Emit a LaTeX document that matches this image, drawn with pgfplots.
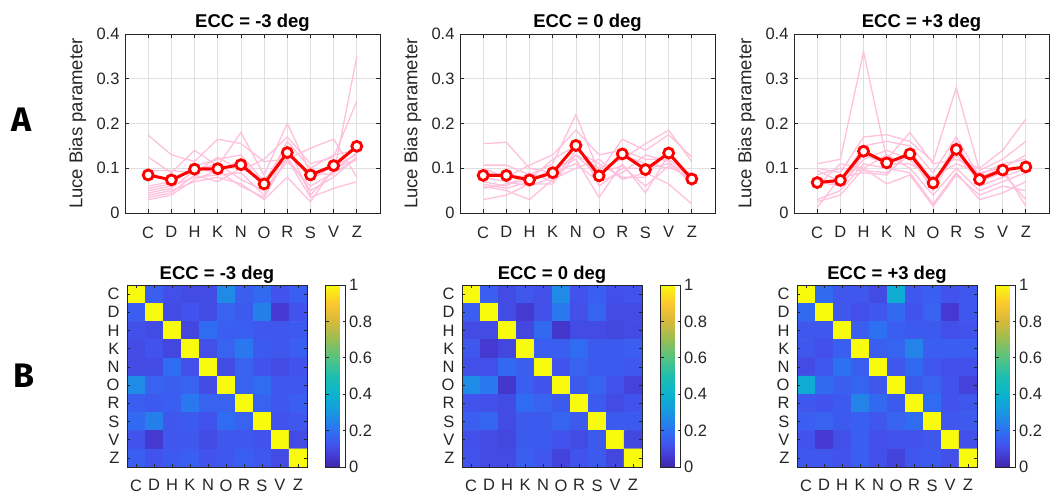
\documentclass[border=0pt]{standalone}
\usepackage{fontspec}
\setmainfont{Liberation Sans}
\newfontfamily\panelfont{Fira Sans}
\usepackage{pgfplots}
\usepackage{pgfplotstable}
\pgfplotsset{compat=1.18}

\definecolor{tickgray}{RGB}{38,38,38}
\definecolor{gridgray}{RGB}{223,223,223}
\definecolor{subjpink}{RGB}{255,192,220}
\definecolor{meanred}{RGB}{255,0,0}

\newcommand\tickfont{\fontsize{16.5}{18}\selectfont}
\newcommand\labfont{\fontsize{18.5}{20}\selectfont}
\newcommand\titfont{\bfseries\fontsize{18.5}{21}\selectfont}

% Luce bias per letter: mean (m) and ten observers (s1..s10)
\pgfplotstableread{
x m s1 s2 s3 s4 s5 s6 s7 s8 s9 s10
1 0.085 0.174 0.125 0.095 0.060 0.050 0.045 0.040 0.035 0.030 0.055
2 0.074 0.130 0.090 0.095 0.070 0.060 0.055 0.050 0.045 0.040 0.065
3 0.098 0.115 0.140 0.090 0.100 0.080 0.095 0.070 0.085 0.075 0.105
4 0.099 0.165 0.105 0.125 0.090 0.085 0.110 0.080 0.070 0.095 0.120
5 0.108 0.155 0.180 0.095 0.120 0.090 0.075 0.065 0.100 0.060 0.130
6 0.065 0.115 0.085 0.120 0.060 0.040 0.050 0.030 0.075 0.035 0.070
7 0.135 0.120 0.200 0.170 0.160 0.140 0.115 0.080 0.120 0.125 0.150
8 0.085 0.145 0.090 0.110 0.100 0.075 0.060 0.025 0.035 0.050 0.040
9 0.106 0.165 0.085 0.125 0.130 0.105 0.090 0.100 0.055 0.080 0.095
10 0.149 0.080 0.350 0.250 0.140 0.130 0.120 0.120 0.070 0.125 0.135
}\eccm

\pgfplotstableread{
x m s1 s2 s3 s4 s5 s6 s7 s8 s9 s10
1 0.084 0.155 0.107 0.100 0.080 0.070 0.065 0.060 0.030 0.055 0.090
2 0.084 0.158 0.107 0.080 0.070 0.060 0.055 0.050 0.040 0.065 0.085
3 0.074 0.100 0.085 0.107 0.060 0.090 0.070 0.030 0.065 0.075 0.080
4 0.090 0.090 0.110 0.130 0.080 0.070 0.100 0.075 0.065 0.120 0.090
5 0.151 0.130 0.220 0.185 0.160 0.140 0.120 0.100 0.130 0.150 0.110
6 0.083 0.100 0.090 0.130 0.060 0.110 0.035 0.120 0.080 0.090 0.070
7 0.132 0.120 0.165 0.140 0.100 0.080 0.110 0.075 0.130 0.105 0.090
8 0.097 0.155 0.140 0.120 0.100 0.080 0.045 0.090 0.110 0.060 0.130
9 0.134 0.185 0.175 0.120 0.110 0.140 0.130 0.065 0.100 0.105 0.115
10 0.076 0.115 0.125 0.080 0.085 0.060 0.070 0.020 0.090 0.075 0.065
}\eccz

\pgfplotstableread{
x m s1 s2 s3 s4 s5 s6 s7 s8 s9 s10
1 0.068 0.110 0.100 0.095 0.080 0.060 0.030 0.025 0.012 0.070 0.085
2 0.073 0.120 0.090 0.070 0.060 0.110 0.050 0.040 0.080 0.060 0.100
3 0.138 0.360 0.170 0.150 0.120 0.100 0.110 0.100 0.090 0.130 0.095
4 0.112 0.120 0.175 0.160 0.140 0.130 0.100 0.065 0.085 0.110 0.090
5 0.132 0.180 0.160 0.150 0.120 0.100 0.090 0.085 0.140 0.110 0.130
6 0.067 0.110 0.115 0.090 0.060 0.040 0.020 0.015 0.070 0.080 0.050
7 0.142 0.120 0.280 0.170 0.160 0.100 0.090 0.085 0.130 0.110 0.140
8 0.075 0.100 0.095 0.080 0.060 0.050 0.030 0.040 0.070 0.090 0.085
9 0.096 0.140 0.120 0.100 0.080 0.070 0.045 0.060 0.090 0.100 0.110
10 0.103 0.210 0.160 0.130 0.100 0.090 0.070 0.050 0.030 0.015 0.120
}\eccp

\pgfplotsset{
  colormap={parula}{rgb255(0pt)=(62,38,168) rgb255(6pt)=(68,58,210)
    rgb255(12.5pt)=(65,85,238) rgb255(20pt)=(45,112,242) rgb255(30pt)=(25,150,225)
    rgb255(40pt)=(10,180,205) rgb255(50pt)=(30,190,175) rgb255(60pt)=(85,195,130)
    rgb255(70pt)=(150,190,85) rgb255(80pt)=(215,185,60) rgb255(90pt)=(252,200,45)
    rgb255(100pt)=(249,251,14)},
  base/.style={
    scale only axis,
    axis line style={draw=tickgray, line width=0.7pt},
    tick style={draw=tickgray, line width=0.7pt},
    tick align=inside,
    tick label style={font=\tickfont, text=tickgray},
    title style={font=\titfont, at={(axis description cs:0.5,1)}, anchor=base},
  },
  lbp/.style={
    base, width=255pt, height=179pt,
    xmin=0, xmax=11, ymin=0, ymax=0.4,
    xtick={1,...,10}, xticklabels={C,D,H,K,N,O,R,S,V,Z},
    ytick={0,0.1,0.2,0.3,0.4}, yticklabels={0,0.1,0.2,0.3,0.4},
    major tick length=4pt,
    grid=major, grid style={draw=gridgray, line width=0.8pt},
    xticklabel style={yshift=-10pt},
    yticklabel style={xshift=-2pt},
    ylabel={Luce Bias parameter},
    ylabel style={font=\labfont, text=tickgray, at={(axis description cs:-0.186,0.5)}, anchor=center},
    title style={yshift=0pt},
  },
  subj/.style={subjpink, line width=1.3pt},
  avg/.style={meanred, line width=3pt, mark=*, mark size=5pt,
    mark options={fill=white, draw=meanred, line width=2.8pt}},
  hm/.style={
    base, width=180pt, height=182pt,
    xmin=0.5, xmax=10.5, ymin=0.5, ymax=10.5, y dir=reverse,
    enlargelimits=false, axis on top,
    xtick={1,...,10}, ytick={1,...,10},
    xticklabels={C,D,H,K,N,O,R,S,V,Z}, yticklabels={C,D,H,K,N,O,R,S,V,Z},
    major tick length=3pt,
    xticklabel style={yshift=-9pt},
    yticklabel style={xshift=-4pt},
    title style={yshift=0pt},
    colormap name=parula, point meta min=0, point meta max=1,
    colorbar,
    colorbar style={
      at={(parent axis.north east)}, anchor=north west, xshift=10pt,
      width=20pt,
      ytick={0,0.2,0.4,0.6,0.8,1}, yticklabels={0,0.2,0.4,0.6,0.8,1},
      yticklabel style={font=\tickfont, text=tickgray},
      axis line style={draw=tickgray, line width=0.7pt},
      tick style={draw=tickgray, line width=0.7pt},
      major tick length=3pt,
    },
  },
}

\begin{document}
\begin{tikzpicture}
\useasboundingbox (0,0) rectangle (1050pt,496pt);

\node[font=\panelfont\bfseries\fontsize{34}{36}\selectfont] at (22pt,376pt) {A};
\node[font=\panelfont\bfseries\fontsize{34}{36}\selectfont] at (24pt,120pt) {B};

% ---- row A: Luce bias parameters ----
\begin{axis}[lbp, at={(125pt,283pt)}, anchor=south west, title={ECC = -3 deg}]
\pgfplotsinvokeforeach{1,...,10}{\addplot[subj] table[x=x, y=s#1] {\eccm};}
\addplot[avg] table[x=x, y=m] {\eccm};
\end{axis}

\begin{axis}[lbp, at={(460pt,283pt)}, anchor=south west, title={ECC = 0 deg}]
\pgfplotsinvokeforeach{1,...,10}{\addplot[subj] table[x=x, y=s#1] {\eccz};}
\addplot[avg] table[x=x, y=m] {\eccz};
\end{axis}

\begin{axis}[lbp, at={(794pt,283pt)}, anchor=south west, title={ECC = +3 deg}]
\pgfplotsinvokeforeach{1,...,10}{\addplot[subj] table[x=x, y=s#1] {\eccp};}
\addplot[avg] table[x=x, y=m] {\eccp};
\end{axis}

% ---- row B: confusion correlation matrices ----
\begin{axis}[hm, at={(127pt,29pt)}, anchor=south west, title={ECC = -3 deg}]
\addplot[matrix plot*, mesh/cols=10, point meta=explicit] coordinates {
(1,1)[1] (2,1)[.15] (3,1)[.11] (4,1)[.10] (5,1)[.10] (6,1)[.27] (7,1)[.15] (8,1)[.18] (9,1)[.12] (10,1)[.15]
(1,2)[.15] (2,2)[1] (3,2)[.10] (4,2)[.12] (5,2)[.10] (6,2)[.16] (7,2)[.14] (8,2)[.24] (9,2)[.06] (10,2)[.12]
(1,3)[.11] (2,3)[.10] (3,3)[1] (4,3)[.09] (5,3)[.19] (6,3)[.15] (7,3)[.15] (8,3)[.13] (9,3)[.13] (10,3)[.14]
(1,4)[.10] (2,4)[.12] (3,4)[.09] (4,4)[1] (5,4)[.11] (6,4)[.16] (7,4)[.22] (8,4)[.14] (9,4)[.13] (10,4)[.15]
(1,5)[.10] (2,5)[.10] (3,5)[.19] (4,5)[.11] (5,5)[1] (6,5)[.10] (7,5)[.16] (8,5)[.12] (9,5)[.10] (10,5)[.12]
(1,6)[.27] (2,6)[.16] (3,6)[.15] (4,6)[.16] (5,6)[.10] (6,6)[1] (7,6)[.16] (8,6)[.19] (9,6)[.13] (10,6)[.13]
(1,7)[.15] (2,7)[.14] (3,7)[.15] (4,7)[.22] (5,7)[.16] (6,7)[.16] (7,7)[1] (8,7)[.16] (9,7)[.13] (10,7)[.15]
(1,8)[.18] (2,8)[.24] (3,8)[.13] (4,8)[.14] (5,8)[.12] (6,8)[.19] (7,8)[.16] (8,8)[1] (9,8)[.12] (10,8)[.13]
(1,9)[.12] (2,9)[.06] (3,9)[.13] (4,9)[.13] (5,9)[.10] (6,9)[.13] (7,9)[.13] (8,9)[.12] (9,9)[1] (10,9)[.10]
(1,10)[.15] (2,10)[.12] (3,10)[.14] (4,10)[.15] (5,10)[.12] (6,10)[.13] (7,10)[.15] (8,10)[.13] (9,10)[.10] (10,10)[1]
};
\end{axis}

\begin{axis}[hm, at={(462pt,29pt)}, anchor=south west, title={ECC = 0 deg}]
\addplot[matrix plot*, mesh/cols=10, point meta=explicit] coordinates {
(1,1)[1] (2,1)[.15] (3,1)[.10] (4,1)[.13] (5,1)[.11] (6,1)[.27] (7,1)[.12] (8,1)[.15] (9,1)[.11] (10,1)[.12]
(1,2)[.15] (2,2)[1] (3,2)[.10] (4,2)[.06] (5,2)[.11] (6,2)[.22] (7,2)[.11] (8,2)[.17] (9,2)[.10] (10,2)[.10]
(1,3)[.10] (2,3)[.10] (3,3)[1] (4,3)[.09] (5,3)[.18] (6,3)[.05] (7,3)[.10] (8,3)[.10] (9,3)[.09] (10,3)[.10]
(1,4)[.13] (2,4)[.06] (3,4)[.09] (4,4)[1] (5,4)[.15] (6,4)[.15] (7,4)[.19] (8,4)[.14] (9,4)[.14] (10,4)[.15]
(1,5)[.11] (2,5)[.11] (3,5)[.18] (4,5)[.15] (5,5)[1] (6,5)[.12] (7,5)[.16] (8,5)[.14] (9,5)[.14] (10,5)[.13]
(1,6)[.27] (2,6)[.22] (3,6)[.05] (4,6)[.15] (5,6)[.12] (6,6)[1] (7,6)[.14] (8,6)[.17] (9,6)[.12] (10,6)[.08]
(1,7)[.12] (2,7)[.11] (3,7)[.10] (4,7)[.19] (5,7)[.16] (6,7)[.14] (7,7)[1] (8,7)[.14] (9,7)[.10] (10,7)[.12]
(1,8)[.15] (2,8)[.17] (3,8)[.10] (4,8)[.14] (5,8)[.14] (6,8)[.17] (7,8)[.14] (8,8)[1] (9,8)[.14] (10,8)[.14]
(1,9)[.11] (2,9)[.10] (3,9)[.09] (4,9)[.14] (5,9)[.14] (6,9)[.12] (7,9)[.10] (8,9)[.14] (9,9)[1] (10,9)[.09]
(1,10)[.12] (2,10)[.10] (3,10)[.10] (4,10)[.15] (5,10)[.13] (6,10)[.08] (7,10)[.12] (8,10)[.14] (9,10)[.09] (10,10)[1]
};
\end{axis}

\begin{axis}[hm, at={(797pt,29pt)}, anchor=south west, title={ECC = +3 deg}]
\addplot[matrix plot*, mesh/cols=10, point meta=explicit] coordinates {
(1,1)[1] (2,1)[.18] (3,1)[.13] (4,1)[.13] (5,1)[.10] (6,1)[.37] (7,1)[.13] (8,1)[.15] (9,1)[.12] (10,1)[.13]
(1,2)[.18] (2,2)[1] (3,2)[.13] (4,2)[.11] (5,2)[.13] (6,2)[.18] (7,2)[.12] (8,2)[.16] (9,2)[.06] (10,2)[.13]
(1,3)[.13] (2,3)[.13] (3,3)[1] (4,3)[.15] (5,3)[.20] (6,3)[.15] (7,3)[.14] (8,3)[.14] (9,3)[.11] (10,3)[.12]
(1,4)[.13] (2,4)[.11] (3,4)[.15] (4,4)[1] (5,4)[.15] (6,4)[.17] (7,4)[.25] (8,4)[.15] (9,4)[.15] (10,4)[.15]
(1,5)[.10] (2,5)[.13] (3,5)[.20] (4,5)[.15] (5,5)[1] (6,5)[.13] (7,5)[.18] (8,5)[.13] (9,5)[.11] (10,5)[.11]
(1,6)[.37] (2,6)[.18] (3,6)[.15] (4,6)[.17] (5,6)[.13] (6,6)[1] (7,6)[.14] (8,6)[.16] (9,6)[.12] (10,6)[.08]
(1,7)[.13] (2,7)[.12] (3,7)[.14] (4,7)[.25] (5,7)[.18] (6,7)[.14] (7,7)[1] (8,7)[.19] (9,7)[.12] (10,7)[.13]
(1,8)[.15] (2,8)[.16] (3,8)[.14] (4,8)[.15] (5,8)[.13] (6,8)[.16] (7,8)[.19] (8,8)[1] (9,8)[.13] (10,8)[.14]
(1,9)[.12] (2,9)[.06] (3,9)[.11] (4,9)[.15] (5,9)[.11] (6,9)[.12] (7,9)[.12] (8,9)[.13] (9,9)[1] (10,9)[.11]
(1,10)[.13] (2,10)[.13] (3,10)[.12] (4,10)[.15] (5,10)[.11] (6,10)[.08] (7,10)[.13] (8,10)[.14] (9,10)[.11] (10,10)[1]
};
\end{axis}
\end{tikzpicture}
\end{document}
